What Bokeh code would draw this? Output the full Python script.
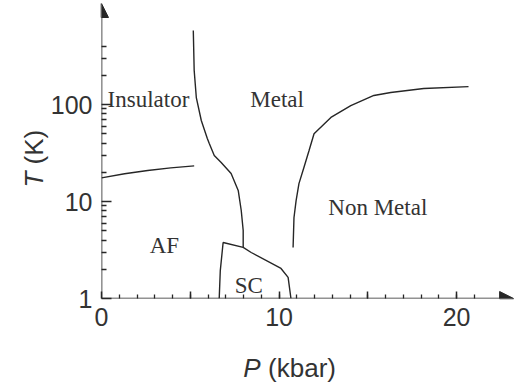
import math
from bokeh.plotting import figure
from bokeh.models import (Range1d, FixedTicker, BasicTickFormatter, Arrow,
                          NormalHead, Label)
from bokeh.embed import file_html
from bokeh.resources import INLINE

# ---------------- data ----------------
# Insulator / AF boundary
ins_af_P = [0.0, 1.3, 2.6, 3.9, 5.22]
ins_af_T = [17.5, 19.3, 20.9, 22.2, 23.3]

# Insulator / Metal boundary (down to the SC dome)
ins_met_P = [5.17, 5.22, 5.34, 5.62, 5.96, 6.07, 6.35, 6.74, 7.30, 7.70, 7.87, 7.98, 7.98]
ins_met_T = [580, 224, 118, 68.4, 44.6, 39.6, 29.8, 25.2, 19.4, 13.0, 8.08, 5.02, 3.36]

# Superconducting dome
sc_P = [6.63, 6.69, 6.85, 7.98, 8.43, 10.11, 10.51, 10.67]
sc_T = [1.0, 1.94, 3.78, 3.36, 2.98, 2.04, 1.65, 1.0]

# Metal / Non Metal boundary
nm_P = [10.79, 10.84, 10.96, 11.12, 11.40, 11.69, 11.97, 12.92, 14.04, 15.34, 16.29, 18.15, 20.67]
nm_T = [3.36, 6.8, 10.2, 15.3, 22.4, 33.5, 50, 73.5, 97.5, 124, 133, 146, 153]

# axes
x_major = [0, 5, 10, 15, 20]
x_minor = list(range(1, 22))
x_labels = {0: "0", 5: "", 10: "10", 15: "", 20: "20"}
y_major = [1, 10, 100]
y_minor = [2, 3, 4, 5, 6, 7, 8, 9, 20, 30, 40, 50, 60, 70, 80, 90, 200, 300, 400]
y_labels = {1: "1", 10: "10", 100: "100"}
x_symbol, x_unit = "P", "(kbar)"
y_symbol, y_unit = "T", "(K)"

# region names
region_text = ["Insulator", "Metal", "Non Metal", "AF", "SC"]
region_P = [0.34, 9.89, 15.56, 3.54, 8.29]
region_T = [112, 112, 8.67, 3.52, 1.36]
region_align = ["left", "center", "center", "center", "center"]

X_END = 23.26
Y_END = 10 ** (295 / 97)

INK = "#262626"
TXT = "#333333"

p = figure(width=514, height=386, x_range=Range1d(0, X_END), y_range=Range1d(1, Y_END),
           y_axis_type="log", output_backend="svg", toolbar_location=None,
           min_border_left=100, min_border_right=0, min_border_top=3, min_border_bottom=88)
p.outline_line_color = None
p.xgrid.visible = False
p.ygrid.visible = False
p.background_fill_color = "white"
p.border_fill_color = "white"

# x axis
xa = p.xaxis[0]
xa.ticker = FixedTicker(ticks=x_major, minor_ticks=x_minor)
xa.formatter = BasicTickFormatter()
xa.major_label_overrides = x_labels
xa.major_tick_in = 7
xa.major_tick_out = 0
xa.minor_tick_in = 4
xa.minor_tick_out = 0
xa.axis_line_color = None
xa.major_tick_line_color = INK
xa.minor_tick_line_color = INK
xa.major_tick_line_width = 1.5
xa.minor_tick_line_width = 1.3
xa.major_label_text_font = "Liberation Sans"
xa.major_label_text_font_size = "25px"
xa.major_label_text_color = TXT
xa.major_label_standoff = 9

# y axis
ya = p.yaxis[0]
ya.ticker = FixedTicker(ticks=y_major, minor_ticks=y_minor)
ya.formatter = BasicTickFormatter()
ya.major_label_overrides = y_labels
ya.major_tick_in = 10
ya.major_tick_out = 0
ya.minor_tick_in = 5
ya.minor_tick_out = 0
ya.axis_line_color = None
ya.major_tick_line_color = INK
ya.minor_tick_line_color = INK
ya.major_tick_line_width = 1.5
ya.minor_tick_line_width = 1.3
ya.major_label_text_font = "Liberation Sans"
ya.major_label_text_font_size = "25px"
ya.major_label_text_color = TXT
ya.major_label_standoff = 9

# axis lines with arrow heads
p.add_layout(Arrow(end=NormalHead(size=14, fill_color=INK, line_color=INK, line_width=1),
                   x_start=0, y_start=1, x_end=X_END - 0.05, y_end=1,
                   line_color=INK, line_width=1.6))
p.add_layout(Arrow(end=NormalHead(size=14, fill_color=INK, line_color=INK, line_width=1),
                   x_start=0, y_start=1, x_end=0, y_end=Y_END,
                   line_color=INK, line_width=1.6))

# phase boundaries
for xs, ys in [(ins_af_P, ins_af_T), (ins_met_P, ins_met_T), (sc_P, sc_T), (nm_P, nm_T)]:
    p.line(xs, ys, line_color=INK, line_width=1.4)

# region labels
for t, x, y, a in zip(region_text, region_P, region_T, region_align):
    p.add_layout(Label(x=x, y=y, text=t, text_align=a, text_baseline="alphabetic",
                       text_font="Liberation Serif", text_font_size="23px",
                       text_color=TXT))

# axis titles: italic symbol + upright unit, placed in side panels (not clipped)
def px_to_P(px):
    return (px - 100) / 17.8

def py_to_T(py):
    return 10 ** ((298 - py) / 97)

common = dict(text_align="left", text_baseline="alphabetic", text_font="Liberation Sans",
              text_font_size="26px", text_color=TXT)

p.add_layout(Label(x=px_to_P(242), y=py_to_T(367), text=x_symbol,
                   text_font_style="italic", **common), "left")
p.add_layout(Label(x=px_to_P(267), y=py_to_T(367), text=x_unit, **common), "below")
p.add_layout(Label(x=px_to_P(32), y=py_to_T(187), text=y_symbol, angle=math.pi / 2,
                   text_font_style="italic", **common), "below")
p.add_layout(Label(x=px_to_P(32), y=py_to_T(164), text=y_unit, angle=math.pi / 2,
                   **common), "left")

open("out.html", "w").write(file_html(p, INLINE))
